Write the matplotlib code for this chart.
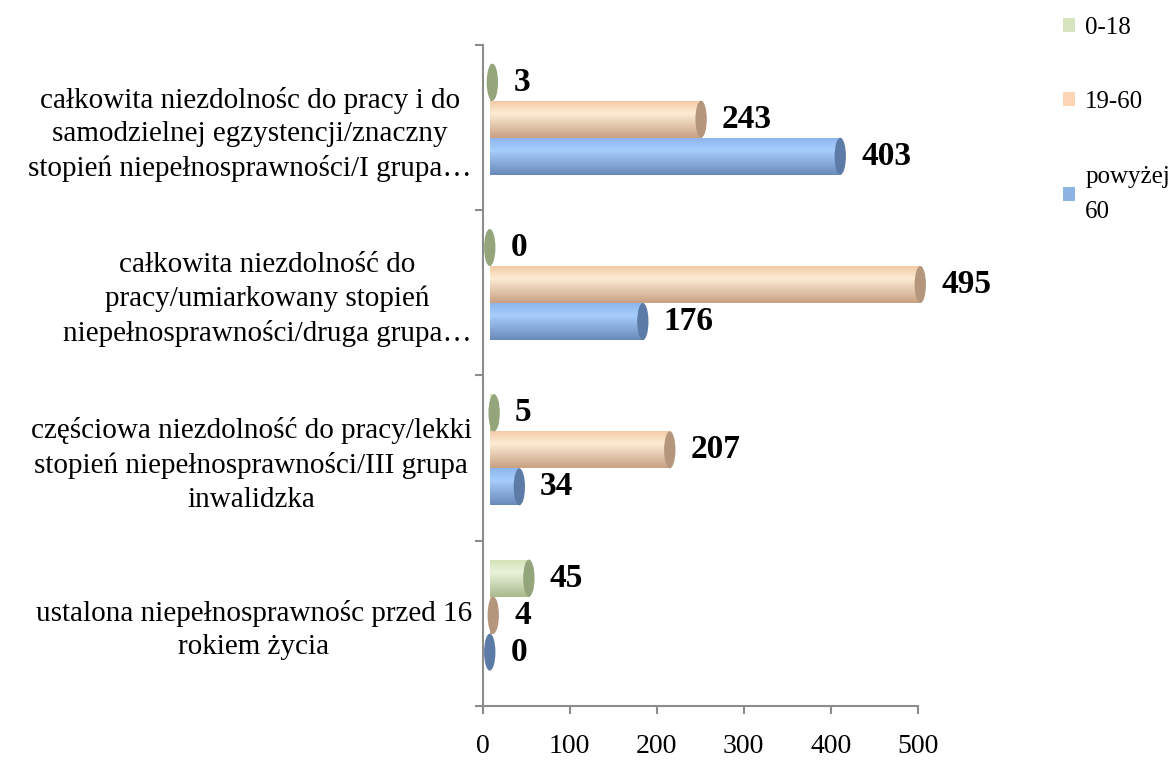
import matplotlib
matplotlib.use("Agg")
import matplotlib.pyplot as plt
import numpy as np
from matplotlib.patches import Ellipse, Rectangle, Patch
from matplotlib.colors import to_rgb

plt.rcParams['font.family'] = ['Liberation Serif', 'DejaVu Serif']

categories = [
    "ustalona niepełnosprawnośc przed 16\nrokiem życia",
    "częściowa niezdolność do pracy/lekki\nstopień niepełnosprawności/III grupa\ninwalidzka",
    "całkowita niezdolność do\npracy/umiarkowany stopień\nniepełnosprawności/druga grupa…",
    "całkowita niezdolnośc do pracy i do\nsamodzielnej egzystencji/znaczny\nstopień niepełnosprawności/I grupa…",
]
series = ["0-18", "19-60", "powyżej\n60"]
v_0_18 = [45, 5, 0, 3]
v_19_60 = [4, 207, 495, 243]
v_60plus = [0, 34, 176, 403]
values = [v_0_18, v_19_60, v_60plus]

# body gradient (top, light, bottom) and cap colour for each series
grads = [
    ("#d3e2b6", "#eaf3da", "#a9ba8c"),
    ("#f3c9a4", "#fdecd4", "#c9a183"),
    ("#8cb5ec", "#a6cdfc", "#6a8aba"),
]
caps = ["#94a47b", "#b3967b", "#5c7ba7"]
legend_cols = ["#d7e4bd", "#fcd5b5", "#8db4e2"]

x0 = 8      # depth offset of the bars
h = 0.224   # bar thickness
ew = 13     # cap ellipse width in data units
offsets = [h, 0, -h]
shift = 0.05

fig = plt.figure(figsize=(11.69, 7.6), dpi=100)
ax = fig.add_axes([0.413, 0.071, 0.372, 0.870])


def gradient(c_top, c_mid, c_bot, n=40):
    t = np.linspace(0, 1, n)
    a, b, c = np.array(to_rgb(c_top)), np.array(to_rgb(c_mid)), np.array(to_rgb(c_bot))
    out = []
    for tt in t:
        if tt < 0.35:
            out.append(a + (b - a) * tt / 0.35)
        else:
            out.append(b + (c - b) * (tt - 0.35) / 0.65)
    return np.array(out)[:, None, :]


def cylinder(y, v, si):
    g = gradient(*grads[si])
    if v > 0:
        rect = Rectangle((x0, y - h / 2), v, h, facecolor='none', edgecolor='none',
                         clip_on=False)
        ax.add_patch(rect)
        im = ax.imshow(g, extent=(x0, x0 + v, y - h / 2, y + h / 2), aspect='auto',
                       origin='upper', zorder=2, interpolation='bilinear')
        im.set_clip_path(rect)
    cap = Ellipse((x0 + v, y), ew, h, facecolor=caps[si], edgecolor='none', zorder=3,
                  clip_on=False)
    ax.add_patch(cap)


ypos = np.arange(len(categories))
for si in range(3):
    for ci in range(len(categories)):
        v = values[si][ci]
        y = ypos[ci] + offsets[si] + shift
        cylinder(y, v, si)
        ax.annotate(str(v), (x0 + v, y), xytext=(15, 0), textcoords='offset points',
                    ha='left', va='center', fontsize=24, fontweight='bold',
                    annotation_clip=False)

ax.set_xlim(0, 500)
ax.set_ylim(-0.5, 3.5)
ax.set_xticks([0, 100, 200, 300, 400, 500])
ax.set_yticks([-0.5, 0.5, 1.5, 2.5, 3.5])
ax.set_yticklabels([])
ax.set_yticks(ypos, minor=True)
ax.set_yticklabels(categories, minor=True)
ax.tick_params(axis='y', which='minor', length=0, pad=8, labelsize=21)
ax.tick_params(axis='y', which='major', length=6, color='#8c8c8c', width=1.5)
ax.tick_params(axis='x', length=6, color='#8c8c8c', width=1.5, labelsize=20, pad=14)
for t in ax.get_yticklabels(minor=True):
    t.set_multialignment('center')
    t.set_linespacing(1.38)
for s in ['top', 'right']:
    ax.spines[s].set_visible(False)
for s in ['left', 'bottom']:
    ax.spines[s].set_color('#8c8c8c')
    ax.spines[s].set_linewidth(1.5)

handles = [Patch(facecolor=c, edgecolor='none') for c in legend_cols]
leg = fig.legend(handles, series, loc='upper left', bbox_to_anchor=(0.909, 0.978),
                 frameon=False, fontsize=18, handlelength=0.5, handleheight=0.5,
                 handletextpad=0.4, labelspacing=2.1, borderpad=0, borderaxespad=0)
for t in leg.get_texts():
    t.set_linespacing(1.8)

fig.savefig("out.png", dpi=100)
